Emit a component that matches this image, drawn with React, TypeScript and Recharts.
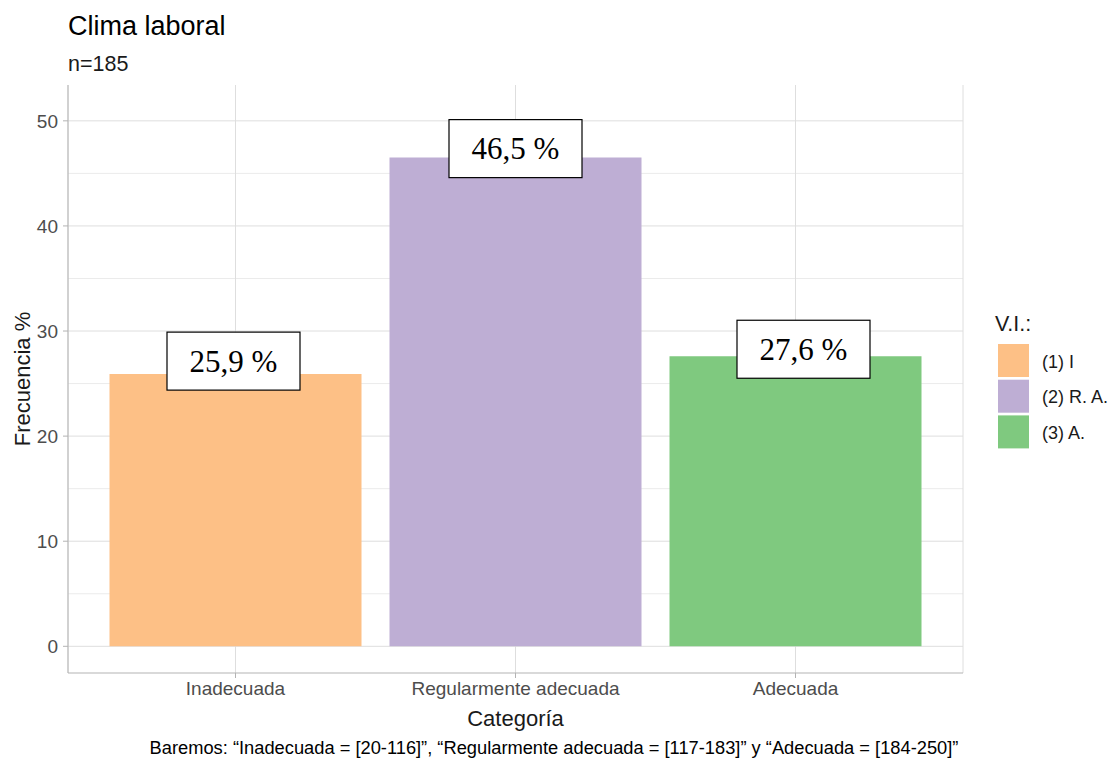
import React from 'react';
import { BarChart, Bar, XAxis, YAxis, CartesianGrid, Cell, LabelList } from 'recharts';

const categories = ['Inadecuada', 'Regularmente adecuada', 'Adecuada'];
const percentages = [25.9, 46.5, 27.6];
const valueLabels = ['25,9 %', '46,5 %', '27,6 %'];
const legendLabels = ['(1) I', '(2) R. A.', '(3) A.'];
const colors = ['#FDC086', '#BEAED4', '#7FC97F'];
const yTicks = [0, 10, 20, 30, 40, 50];
const yMinor = [5, 15, 25, 35, 45];

const TITLE = 'Clima laboral';
const SUBTITLE = 'n=185';
const X_TITLE = 'Categoría';
const Y_TITLE = 'Frecuencia %';
const LEGEND_TITLE = 'V.I.:';
const CAPTION = 'Baremos: “Inadecuada = [20-116]”, “Regularmente adecuada = [117-183]” y “Adecuada = [184-250]”';

const data = categories.map((c, i) => ({ name: c, value: percentages[i], label: valueLabels[i] }));

const W = 1108;
const H = 763;
const M = { top: 85, right: 145, bottom: 0, left: 0 };
const Y_AXIS_W = 68;
const X_AXIS_H = 90;
const SANS = '"Liberation Sans", Arial, Helvetica, sans-serif';
const SERIF = '"Liberation Serif", "Times New Roman", serif';
const BORDER = '#B3B3B3';
const GRID = '#DEDEDE';
const GRID_MINOR = '#EBEBEB';
const TICK_TXT = '#4D4D4D';

// small label box nudges (px) relative to the top-centre of each bar
const LABEL_NUDGE = [
  { dx: -2, dy: -13 },
  { dx: 0, dy: -9 },
  { dx: 8, dy: -7 },
];

const BoxLabel = (props: any) => {
  const { x, y, width, index, value } = props;
  const n = LABEL_NUDGE[index] || { dx: 0, dy: -10 };
  const cx = x + width / 2 + n.dx;
  const cy = y + n.dy;
  const bw = 133;
  const bh = 58;
  return (
    <g>
      <rect x={cx - bw / 2} y={cy - bh / 2} width={bw} height={bh} fill="#ffffff" stroke="#000000" strokeWidth={1.2} />
      <text x={cx} y={cy} textAnchor="middle" dominantBaseline="central" fontFamily={SERIF} fontSize={31} fill="#000000">
        {value}
      </text>
    </g>
  );
};

export default function App() {
  const plotLeft = M.left + Y_AXIS_W;
  const plotRight = W - M.right;
  const plotTop = M.top;
  const plotBottom = H - M.bottom - X_AXIS_H;
  return (
    <div style={{ position: 'absolute', left: 0, top: 0, width: W, height: H, background: '#ffffff' }}>
      <BarChart width={W} height={H} data={data} margin={M} barCategoryGap="5%">
        <CartesianGrid stroke={GRID_MINOR} strokeWidth={1} vertical={false} horizontalValues={yMinor} />
        <CartesianGrid stroke={GRID} strokeWidth={1} horizontalValues={yTicks} />
        <XAxis
          dataKey="name"
          padding={{ left: 27.5, right: 27.5 }}
          height={X_AXIS_H}
          stroke={BORDER}
          tickSize={5}
          tickMargin={4}
          tick={{ fill: TICK_TXT, fontSize: 19, fontFamily: SANS }}
          tickLine={{ stroke: BORDER }}
          axisLine={{ stroke: BORDER }}
        />
        <XAxis dataKey="name" xAxisId="top" orientation="top" height={0} tick={false} tickLine={false} axisLine={{ stroke: BORDER }} padding={{ left: 27.5, right: 27.5 }} />
        <YAxis
          width={Y_AXIS_W}
          domain={[-2.54, 53.41]}
          ticks={yTicks}
          allowDataOverflow
          stroke={BORDER}
          tickSize={5}
          tickMargin={5}
          tick={{ fill: TICK_TXT, fontSize: 19, fontFamily: SANS }}
          tickLine={{ stroke: BORDER }}
          axisLine={{ stroke: BORDER }}
        />
        <YAxis yAxisId="right" orientation="right" width={0} tick={false} tickLine={false} axisLine={{ stroke: BORDER }} />
        <Bar dataKey="value" isAnimationActive={false}>
          {data.map((d, i) => (
            <Cell key={d.name} fill={colors[i]} />
          ))}
          <LabelList dataKey="label" content={BoxLabel} />
        </Bar>
      </BarChart>
      <svg width={W} height={H} style={{ position: 'absolute', left: 0, top: 0, pointerEvents: 'none' }}>
        <text x={plotLeft} y={35} fontFamily={SANS} fontSize={27} fill="#000000">{TITLE}</text>
        <text x={plotLeft} y={71} fontFamily={SANS} fontSize={21.5} fill="#1a1a1a">{SUBTITLE}</text>
        <text
          x={22}
          y={(plotTop + plotBottom) / 2}
          transform={`rotate(-90 22 ${(plotTop + plotBottom) / 2})`}
          textAnchor="middle"
          dominantBaseline="central"
          fontFamily={SANS}
          fontSize={22}
          fill="#1a1a1a"
        >
          {Y_TITLE}
        </text>
        <text x={(plotLeft + plotRight) / 2} y={726} textAnchor="middle" fontFamily={SANS} fontSize={22} fill="#1a1a1a">{X_TITLE}</text>
        <text x={W / 2} y={754} textAnchor="middle" fontFamily={SANS} fontSize={18.3} fill="#000000">{CAPTION}</text>
        <text x={995} y={331} fontFamily={SANS} fontSize={21.5} fill="#1a1a1a">{LEGEND_TITLE}</text>
        {legendLabels.map((l, i) => (
          <g key={l}>
            <rect x={998} y={344 + i * 35.7} width={31} height={33} fill={colors[i]} />
            <text x={1042} y={361.5 + i * 35.7} dominantBaseline="central" fontFamily={SANS} fontSize={18} fill="#1a1a1a">{l}</text>
          </g>
        ))}
      </svg>
    </div>
  );
}
